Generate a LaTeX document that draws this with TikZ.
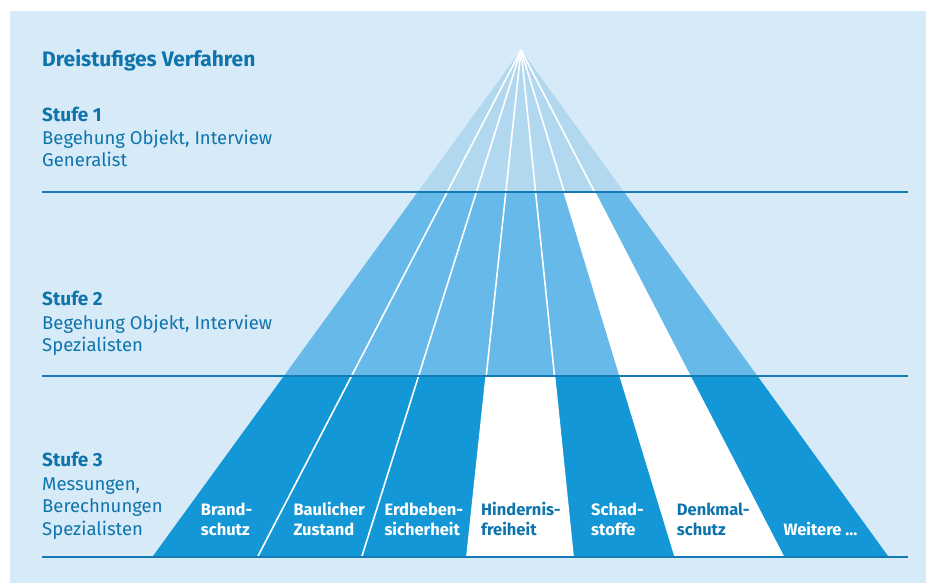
\documentclass[tikz,border=0pt]{standalone}
\usepackage{fontspec}
\setmainfont{Fira Sans}
\usetikzlibrary{calc}

\definecolor{bgblue}{RGB}{215,234,247}
\definecolor{tierone}{RGB}{178,216,240}
\definecolor{tiertwo}{RGB}{102,185,232}
\definecolor{tierthree}{RGB}{20,151,214}
\definecolor{inkblue}{RGB}{14,116,172}
\definecolor{rulecol}{RGB}{19,122,180}

\tikzset{
  heading/.style={anchor=base west, inner sep=0pt, text=inkblue,
    font=\fontsize{21}{24}\selectfont\bfseries},
  stagehead/.style={anchor=base west, inner sep=0pt, text=inkblue,
    font=\fontsize{19}{22}\selectfont\bfseries},
  stagetext/.style={anchor=base west, inner sep=0pt, text=inkblue,
    font=\fontsize{18.5}{22}\selectfont},
  fieldlabel/.style={anchor=base west, inner sep=0pt, text=white,
    font=\fontsize{16.5}{20}\selectfont\bfseries},
  fieldlabeldark/.style={fieldlabel, text=inkblue},
  ray/.style={draw=white, line width=1.6pt},
  tierrule/.style={draw=rulecol, line width=2pt},
}

\begin{document}
\begin{tikzpicture}[x=1pt,y=-1pt]
\useasboundingbox (0,0) rectangle (926,583);
\fill[bgblue] (10,11) rectangle (926,583);

% apex and the foot points of the seven fields
\coordinate (apex) at (521,50);
\foreach \i/\x in {0/153,1/258,2/362,3/467,4/573,5/675,6/783,7/888}
  \coordinate (b\i) at (\x,556);

% stage 1 band
\begin{scope}
  \clip (0,0) rectangle (926,192);
  \fill[tierone] (apex) -- (b0) -- (b7) -- cycle;
\end{scope}
% stage 2 band
\begin{scope}
  \clip (0,192) rectangle (926,375.5);
  \fill[tiertwo] (apex) -- (b0) -- (b7) -- cycle;
  \fill[white] (apex) -- (b5) -- (b6) -- cycle;
\end{scope}
% stage 3 band
\begin{scope}
  \clip (0,375.5) rectangle (926,556);
  \fill[tierthree] (apex) -- (b0) -- (b7) -- cycle;
  \fill[white] (apex) -- (b3) -- (b4) -- cycle;
  \fill[white] (apex) -- (b5) -- (b6) -- cycle;
\end{scope}

% dividing rays
\foreach \i in {1,...,6}
  \draw[ray] (apex) -- (b\i);

% stage rules
\coordinate (r1w) at (42,192);    \coordinate (r1e) at (908,192);
\coordinate (r2w) at (42,375.5);  \coordinate (r2e) at (908,375.5);
\coordinate (r3w) at (42,556.5);  \coordinate (r3e) at (908,556.5);
\draw[tierrule] (r1w) -- (r1e);
\draw[tierrule] (r2w) -- (r2e);
\draw[tierrule] (r3w) -- (r3e);

% left column
\node[heading] (title) at (42,66.7) {Dreistufiges Verfahren};

\node[stagehead] (s1h) at (42,121.7) {Stufe 1};
\node[stagetext] (s1a) at (42,144.3) {Begehung Objekt, Interview};
\node[stagetext] (s1b) at (42,167) {Generalist};

\node[stagehead] (s2h) at (42,305.7) {Stufe 2};
\node[stagetext] (s2a) at (42,329) {Begehung Objekt, Interview};
\node[stagetext] (s2b) at (42,351.7) {Spezialisten};

\node[stagehead] (s3h) at (42,466.7) {Stufe 3};
\node[stagetext] (s3a) at (42,490) {Messungen,};
\node[stagetext] (s3b) at (42,512.7) {Berechnungen};
\node[stagetext] (s3c) at (42,535.7) {Spezialisten};

% field labels
\node[fieldlabel] (f1a) at (200.7,515.7) {Brand-};
\node[fieldlabel] (f1b) at (200.7,535.7) {schutz};
\node[fieldlabel] (f2a) at (293.3,515.7) {Baulicher};
\node[fieldlabel] (f2b) at (293.3,535.7) {Zustand};
\node[fieldlabel] (f3a) at (384.3,515.7) {Erdbeben-};
\node[fieldlabel] (f3b) at (384.3,535.7) {sicherheit};
\node[fieldlabeldark] (f4a) at (481,515.7) {Hindernis-};
\node[fieldlabeldark] (f4b) at (481,535.7) {freiheit};
\node[fieldlabel] (f5a) at (591,515.7) {Schad-};
\node[fieldlabel] (f5b) at (591,535.7) {stoffe};
\node[fieldlabeldark] (f6a) at (676.7,515.7) {Denkmal-};
\node[fieldlabeldark] (f6b) at (676.7,535.7) {schutz};
\node[fieldlabel] (f7) at (783.3,535.7) {Weitere \dots};
\end{tikzpicture}
\end{document}
